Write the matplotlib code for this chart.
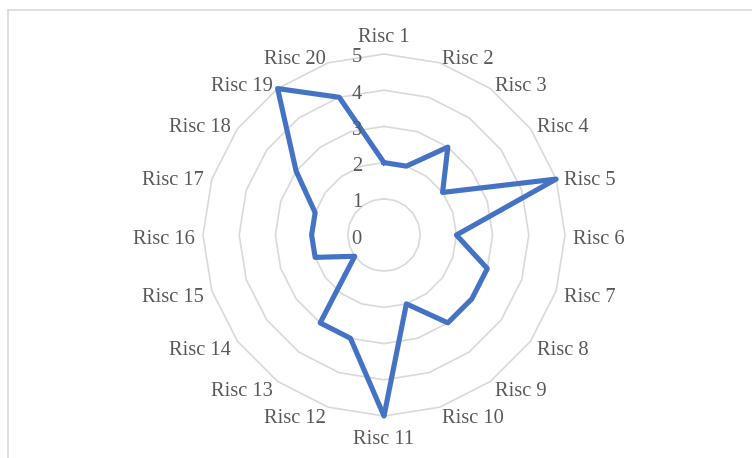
import matplotlib.pyplot as plt
from matplotlib.lines import Line2D
import numpy as np

plt.rcParams['font.family'] = ['Liberation Serif', 'DejaVu Serif']

categories = ["Risc %d" % i for i in range(1, 21)]
values = [2, 2, 3, 2, 5, 2, 3, 3, 3, 2, 5, 3, 3, 1, 2, 2, 2, 3, 5, 4]
levels = [0, 1, 2, 3, 4, 5]

W, H = 752, 458
cx, cy, R = 384, 235, 181

fig = plt.figure(figsize=(W / 100, H / 100), dpi=100)
ax = fig.add_axes([(cx - R) / W, (H - cy - R) / H, 2 * R / W, 2 * R / H], projection='polar')
ax.set_theta_zero_location('N')
ax.set_theta_direction(-1)
ax.set_ylim(0, 5)
ax.grid(False)
ax.spines['polar'].set_visible(False)
ax.set_xticks([])
ax.set_yticks([])
ax.patch.set_alpha(0)

n = len(categories)
ang = np.arange(n) * 2 * np.pi / n
ang_c = np.append(ang, ang[0])

# polygon gridlines
for lv in levels[1:]:
    ax.plot(ang_c, [lv] * (n + 1), color='#D9D9D9', lw=1.2, zorder=1, clip_on=False)

# data line
vals_c = values + values[:1]
ax.plot(ang_c, vals_c, color='#4472C4', lw=3.7, solid_joinstyle='round', zorder=3, clip_on=False)

# category labels
gap = 8
for a, lab in zip(ang, categories):
    s, c = np.sin(a), np.cos(a)
    if abs(s) < 0.01:
        ha = 'center'
    elif s > 0:
        ha = 'left'
    else:
        ha = 'right'
    dy = gap * c - 4
    if abs(s) < 0.01:
        va = 'bottom' if c > 0 else 'top'
        dy = gap * c + (-1 if c > 0 else -6)
    else:
        va = 'center'
    ax.annotate(lab, (a, levels[-1]), xytext=(gap * s, dy), textcoords='offset pixels',
                ha=ha, va=va, fontsize=14.8, color='#595959', annotation_clip=False)

# value labels
for lv in levels:
    ax.annotate(str(lv), (0, lv), xytext=(-22, -4), textcoords='offset pixels',
                ha='right', va='center', fontsize=14.8, color='#595959', annotation_clip=False)

# chart area border (right and bottom edges fall outside the picture)
fig.add_artist(Line2D([7.5 / W, 1], [1 - 9.5 / H, 1 - 9.5 / H], color='#D9D9D9', lw=1.2))
fig.add_artist(Line2D([7.5 / W, 7.5 / W], [0, 1 - 9.5 / H], color='#D9D9D9', lw=1.2))

fig.savefig('out.png', dpi=100)
